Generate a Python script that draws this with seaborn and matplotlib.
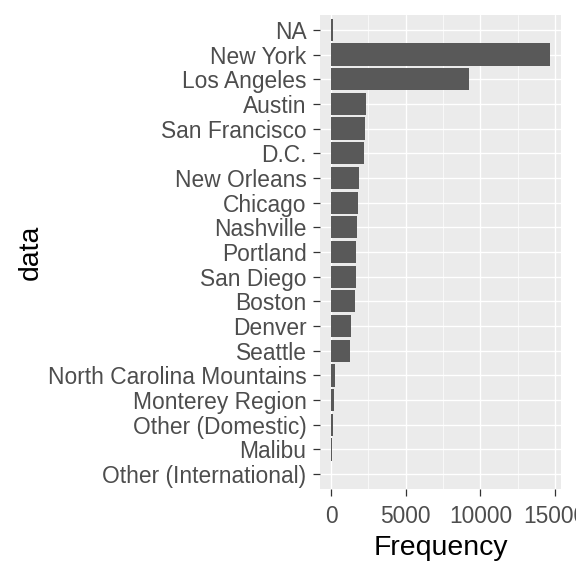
import matplotlib
matplotlib.use("Agg")
import matplotlib.pyplot as plt
from matplotlib.ticker import MultipleLocator
import seaborn as sns
import pandas as pd

# Dados
cities = ["NA", "New York", "Los Angeles", "Austin", "San Francisco", "D.C.",
          "New Orleans", "Chicago", "Nashville", "Portland", "San Diego",
          "Boston", "Denver", "Seattle", "North Carolina Mountains",
          "Monterey Region", "Other (Domestic)", "Malibu",
          "Other (International)"]
freq = [150, 14665, 9246, 2360, 2295, 2230, 1895, 1830, 1760, 1695, 1680,
        1626, 1360, 1290, 290, 225, 155, 70, 10]
x_ticks = [0, 5000, 10000, 15000]

df = pd.DataFrame({"data": cities, "Frequency": freq})

sns.set_theme(style="darkgrid", rc={
    "axes.facecolor": "#EBEBEB",
    "grid.color": "white",
})
plt.rcParams["font.family"] = ["Liberation Sans", "DejaVu Sans"]

fig = plt.figure(figsize=(5.76, 5.76), dpi=100)
fig.patch.set_facecolor("white")
# painel: x 320..561, y 15..489 (pixels)
ax = fig.add_axes([320 / 576, 1 - 489 / 576, 241 / 576, 474 / 576])

sns.barplot(data=df, x="Frequency", y="data", order=cities, color="#595959",
            saturation=1, width=0.9, orient="h", linewidth=0, ax=ax)

xmax = max(freq)
ax.set_xlim(-0.05 * xmax, 1.05 * xmax)
ax.set_ylim(len(cities) - 0.4, -0.6)
ax.set_xticks(x_ticks)
ax.xaxis.set_minor_locator(MultipleLocator(2500))

ax.grid(which="major", color="white", linewidth=1.0)
ax.grid(which="minor", axis="x", color="white", linewidth=0.5)
ax.set_axisbelow(True)
for s in ax.spines.values():
    s.set_visible(False)

ax.tick_params(axis="both", which="major", length=5.2, width=0.9,
               color="#333333", labelcolor="#4D4D4D", labelsize=16.4,
               left=True, bottom=True)
ax.tick_params(axis="y", pad=4.5)
ax.tick_params(axis="x", pad=6.5)
ax.tick_params(which="minor", length=0)

ax.set_xlabel("Frequency", fontsize=20.4, color="black", labelpad=5)
ax.set_ylabel("data", fontsize=20.4, color="black", labelpad=3)

fig.savefig("out.png", dpi=100)
